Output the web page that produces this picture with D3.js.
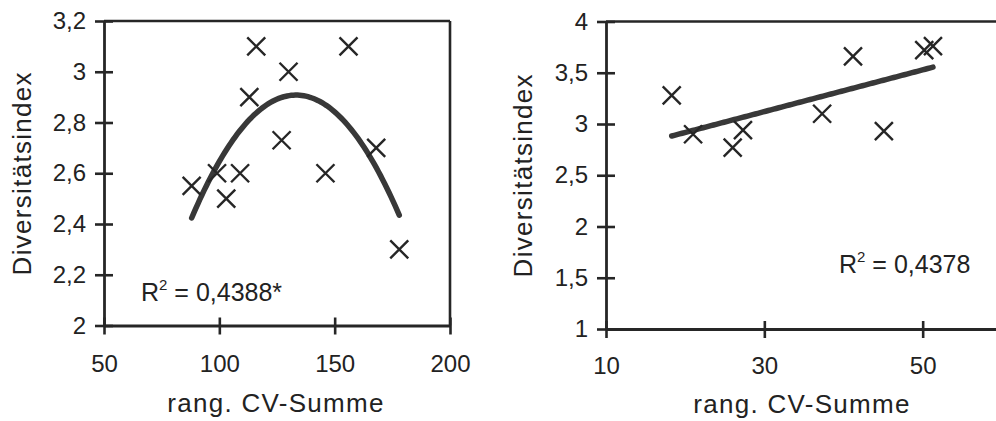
<!DOCTYPE html>
<html>
<head>
<meta charset="utf-8">
<script src="https://cdn.jsdelivr.net/npm/d3@7"></script>
<style>
  body { margin: 0; background: #fff; }
  svg { display: block; font-family: "Liberation Sans", Arial, sans-serif; }
</style>
</head>
<body>
<svg id="chart" width="996" height="421"></svg>
<script>
// left plot: rang. CV-Summe vs. Diversitaetsindex (quadratic trend)
const leftX = [88, 99, 103, 109, 113, 116, 127, 130, 146, 156, 168, 178];
const leftY = [2.55, 2.6, 2.5, 2.6, 2.9, 3.1, 2.73, 3.0, 2.6, 3.1, 2.7, 2.3];
const leftXTicks = [50, 100, 150, 200];
const leftYTicks = [2, 2.2, 2.4, 2.6, 2.8, 3, 3.2];
const leftR2 = "0,4388*";

// right plot (linear trend), plot area runs past the right edge
const rightX = [18.3, 21, 26, 27.3, 37.3, 41.2, 45.1, 50.2, 51.3];
const rightY = [3.28, 2.9, 2.77, 2.94, 3.1, 3.66, 2.93, 3.72, 3.76];
const rightXTicks = [10, 30, 50];
const rightYTicks = [1, 1.5, 2, 2.5, 3, 3.5, 4];
const rightR2 = "0,4378";

const xTitle = "rang. CV-Summe";
const yTitle = "Diversitätsindex";

const ink = "#262626";
const svg = d3.select("#chart");
const fmt = v => String(v).replace(".", ",");

// least squares polynomial fit (degree 1 or 2)
function polyFit(xs, ys, deg) {
  const n = deg + 1;
  const A = [], b = [];
  for (let i = 0; i < n; i++) {
    A.push([]);
    for (let j = 0; j < n; j++) A[i].push(d3.sum(xs, x => Math.pow(x, i + j)));
    b.push(d3.sum(xs, (x, k) => ys[k] * Math.pow(x, i)));
  }
  // gaussian elimination
  for (let i = 0; i < n; i++) {
    for (let r = i + 1; r < n; r++) {
      const f = A[r][i] / A[i][i];
      for (let c = i; c < n; c++) A[r][c] -= f * A[i][c];
      b[r] -= f * b[i];
    }
  }
  const coef = new Array(n).fill(0);
  for (let i = n - 1; i >= 0; i--) {
    let s = b[i];
    for (let c = i + 1; c < n; c++) s -= A[i][c] * coef[c];
    coef[i] = s / A[i][i];
  }
  return x => coef.reduce((acc, c, i) => acc + c * Math.pow(x, i), 0);
}

function drawPanel(cfg) {
  const g = svg.append("g");
  const x = d3.scaleLinear().domain(cfg.xDomain).range([cfg.left, cfg.right]);
  const y = d3.scaleLinear().domain(cfg.yDomain).range([cfg.bottom, cfg.top]);

  // frame (top and right edges)
  g.append("line")
    .attr("x1", cfg.left).attr("x2", cfg.right)
    .attr("y1", cfg.top).attr("y2", cfg.top)
    .attr("stroke", ink).attr("stroke-width", 2.6);
  g.append("line")
    .attr("x1", cfg.right).attr("x2", cfg.right)
    .attr("y1", cfg.top).attr("y2", cfg.bottom)
    .attr("stroke", ink).attr("stroke-width", 2.6);

  const yAxis = g.append("g")
    .attr("transform", `translate(${cfg.left},0)`)
    .call(d3.axisLeft(y).tickValues(cfg.yTicks).tickFormat(fmt)
      .tickSize(8).tickSizeOuter(0).tickPadding(10));
  yAxis.selectAll(".tick line").attr("x1", 9).attr("x2", -9);

  const xAxis = g.append("g")
    .attr("transform", `translate(0,${cfg.bottom})`)
    .call(d3.axisBottom(x).tickValues(cfg.xTicks).tickFormat(fmt)
      .tickSize(8).tickSizeOuter(0).tickPadding(cfg.xPad));
  xAxis.selectAll(".tick line").attr("y1", -8).attr("y2", 9);

  [yAxis, xAxis].forEach(a => {
    a.select(".domain").attr("stroke", ink).attr("stroke-width", 2.8);
    a.selectAll(".tick line").attr("stroke", ink).attr("stroke-width", 2.6);
    a.selectAll(".tick text").attr("fill", "#222").attr("font-size", 24)
      .attr("font-family", "Liberation Sans, Arial, sans-serif");
  });

  // trend line
  const fit = polyFit(cfg.xs, cfg.ys, cfg.deg);
  const [x0, x1] = d3.extent(cfg.xs);
  const curve = d3.range(0, 101).map(i => x0 + (x1 - x0) * i / 100);
  g.append("path")
    .datum(curve)
    .attr("d", d3.line().x(d => x(d)).y(d => y(fit(d))))
    .attr("fill", "none").attr("stroke", "#383838")
    .attr("stroke-width", 5.5).attr("stroke-linecap", "round");

  // markers
  g.selectAll("path.pt")
    .data(cfg.xs.map((v, i) => [v, cfg.ys[i]]))
    .join("path")
    .attr("class", "pt")
    .attr("transform", d => `translate(${x(d[0])},${y(d[1])})`)
    .attr("d", "M-9,-9L9,9M-9,9L9,-9")
    .attr("stroke", ink).attr("stroke-width", 2.4).attr("fill", "none");

  // axis titles
  g.append("text")
    .attr("x", cfg.xTitleX).attr("y", cfg.xTitleY)
    .attr("text-anchor", "middle")
    .attr("font-size", 26).attr("letter-spacing", 1.3).attr("fill", "#222")
    .text(xTitle);
  g.append("text")
    .attr("transform", `translate(${cfg.yTitleX},${(cfg.top + cfg.bottom) / 2}) rotate(-90)`)
    .attr("text-anchor", "middle")
    .attr("font-size", 26).attr("letter-spacing", 1.3).attr("fill", "#222")
    .text(yTitle);

  // R^2 label
  const t = g.append("text")
    .attr("x", cfg.r2X).attr("y", cfg.r2Y)
    .attr("font-size", 25).attr("fill", "#222");
  t.append("tspan").text("R");
  t.append("tspan").attr("font-size", 15).attr("dy", -11).text("2");
  t.append("tspan").attr("dy", 11).text(" = " + cfg.r2);
}

drawPanel({
  xs: leftX, ys: leftY, deg: 2,
  xDomain: [50, 200], yDomain: [2, 3.2],
  xTicks: leftXTicks, yTicks: leftYTicks,
  left: 104, right: 450, top: 21, bottom: 325.5,
  xPad: 21,
  xTitleX: 276, xTitleY: 412, yTitleX: 31,
  r2X: 141, r2Y: 301, r2: leftR2
});

drawPanel({
  xs: rightX, ys: rightY, deg: 1,
  xDomain: [10, 70], yDomain: [1, 4],
  xTicks: rightXTicks, yTicks: rightYTicks,
  left: 606, right: 1081, top: 21.5, bottom: 329,
  xPad: 20,
  xTitleX: 802, xTitleY: 413, yTitleX: 532,
  r2X: 839, r2Y: 273, r2: rightR2
});
</script>
</body>
</html>
